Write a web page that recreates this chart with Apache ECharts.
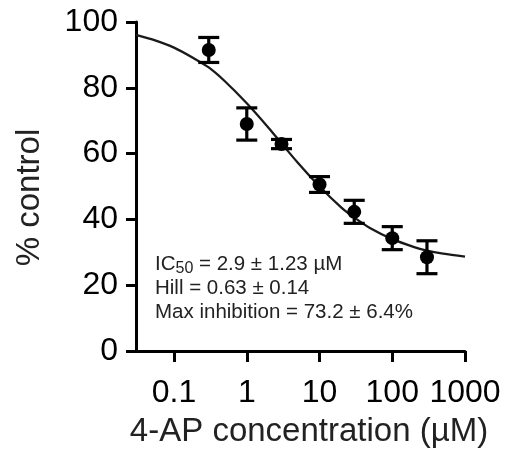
<!DOCTYPE html>
<html>
<head>
<meta charset="utf-8">
<script src="https://cdn.jsdelivr.net/npm/echarts@6/dist/echarts.min.js"></script>
<style>
  html, body { margin: 0; padding: 0; background: #fff; }
  #chart { width: 510px; height: 459px; }
</style>
</head>
<body>
<div id="chart"></div>
<script>
// concentrations (µM) and measured % control, mean and error
var conc = [0.3, 1, 3, 10, 30, 100, 300];
var meanVals = [91.5, 69.0, 62.9, 50.6, 42.3, 34.3, 28.5];
var errVals = [3.8, 4.9, 1.4, 2.4, 3.5, 3.5, 5.0];

// fitted curve
var fitX = [0.03, 0.05, 0.1, 0.2, 0.3, 0.5, 1, 2, 3, 5, 10, 20, 30, 50, 100, 200, 300, 500, 1000];
var fitY = [96.1, 94.7, 92.2, 88.6, 86.2, 82.0, 75.3, 67.8, 63.1, 57.3, 50.0, 43.6, 40.6, 37.3, 34.0, 31.6, 30.5, 29.6, 28.7];

var xTicks = [0.1, 1, 10, 100, 1000];

var fitData = fitX.map(function (x, i) { return [x, fitY[i]]; });
var pointData = conc.map(function (x, i) { return [x, meanVals[i]]; });
var errData = conc.map(function (x, i) { return [x, meanVals[i], errVals[i]]; });

var myChart = echarts.init(document.getElementById('chart'));

myChart.setOption({
    animation: false,
    textStyle: { fontFamily: 'Liberation Sans, Arial, sans-serif' },
    grid: { left: 136, right: 45, top: 22, bottom: 108, containLabel: false },
    xAxis: {
        type: 'log',
        min: 0.03,
        max: 1000,
        name: '4-AP concentration (µM)',
        nameLocation: 'middle',
        nameGap: 64,
        nameTextStyle: { fontSize: 33, color: '#222', padding: [0, 0, 0, 17] },
        axisLine: { lineStyle: { color: '#000', width: 3 } },
        axisTick: { length: 11, lineStyle: { color: '#000', width: 3 }, customValues: xTicks },
        axisLabel: {
            fontSize: 32, color: '#000', margin: 26,
            customValues: xTicks,
            formatter: function (v) { return String(v); }
        },
        splitLine: { show: false }
    },
    yAxis: {
        type: 'value',
        min: 0,
        max: 100,
        interval: 20,
        name: '% control',
        nameLocation: 'middle',
        nameGap: 90,
        nameTextStyle: { fontSize: 33, color: '#222', padding: [0, 22, 0, 0] },
        axisLine: { show: true, lineStyle: { color: '#000', width: 3 } },
        axisTick: { show: true, length: 10, lineStyle: { color: '#000', width: 3 } },
        axisLabel: { fontSize: 32, color: '#000', margin: 18, padding: [6, 0, 0, 0] },
        splitLine: { show: false }
    },
    graphic: [{
        type: 'text',
        left: 155,
        top: 254,
        style: {
            text: '{n|IC}{s|50}{n| = 2.9 ± 1.23 µM}\n{n|Hill = 0.63 ± 0.14}\n{n|Max inhibition = 73.2 ± 6.4%}',
            fill: '#222',
            font: '21px Liberation Sans',
            rich: {
                n: { fontSize: 20.5, lineHeight: 24, fill: '#222', fontFamily: 'Liberation Sans' },
                s: { fontSize: 16, lineHeight: 16, verticalAlign: 'bottom', fill: '#222', fontFamily: 'Liberation Sans' }
            }
        }
    }],
    series: [
        {
            name: 'fit',
            type: 'line',
            data: fitData,
            smooth: 0.3,
            showSymbol: false,
            symbol: 'none',
            lineStyle: { color: '#1a1a1a', width: 2.3 },
            z: 2
        },
        {
            name: 'error',
            type: 'custom',
            data: errData,
            encode: { x: 0, y: 1 },
            renderItem: function (params, api) {
                var x = api.value(0), m = api.value(1), e = api.value(2);
                var top = api.coord([x, m + e]);
                var bot = api.coord([x, m - e]);
                var hw = 10.5;
                var st = { stroke: '#000', lineWidth: 3.2 };
                return {
                    type: 'group',
                    children: [
                        { type: 'line', shape: { x1: top[0], y1: top[1], x2: bot[0], y2: bot[1] }, style: st },
                        { type: 'line', shape: { x1: top[0] - hw, y1: top[1], x2: top[0] + hw, y2: top[1] }, style: st },
                        { type: 'line', shape: { x1: bot[0] - hw, y1: bot[1], x2: bot[0] + hw, y2: bot[1] }, style: st }
                    ]
                };
            },
            z: 3
        },
        {
            name: 'mean',
            type: 'scatter',
            data: pointData,
            symbolSize: 14,
            itemStyle: { color: '#000', opacity: 1 },
            z: 4
        }
    ]
});
</script>
</body>
</html>
